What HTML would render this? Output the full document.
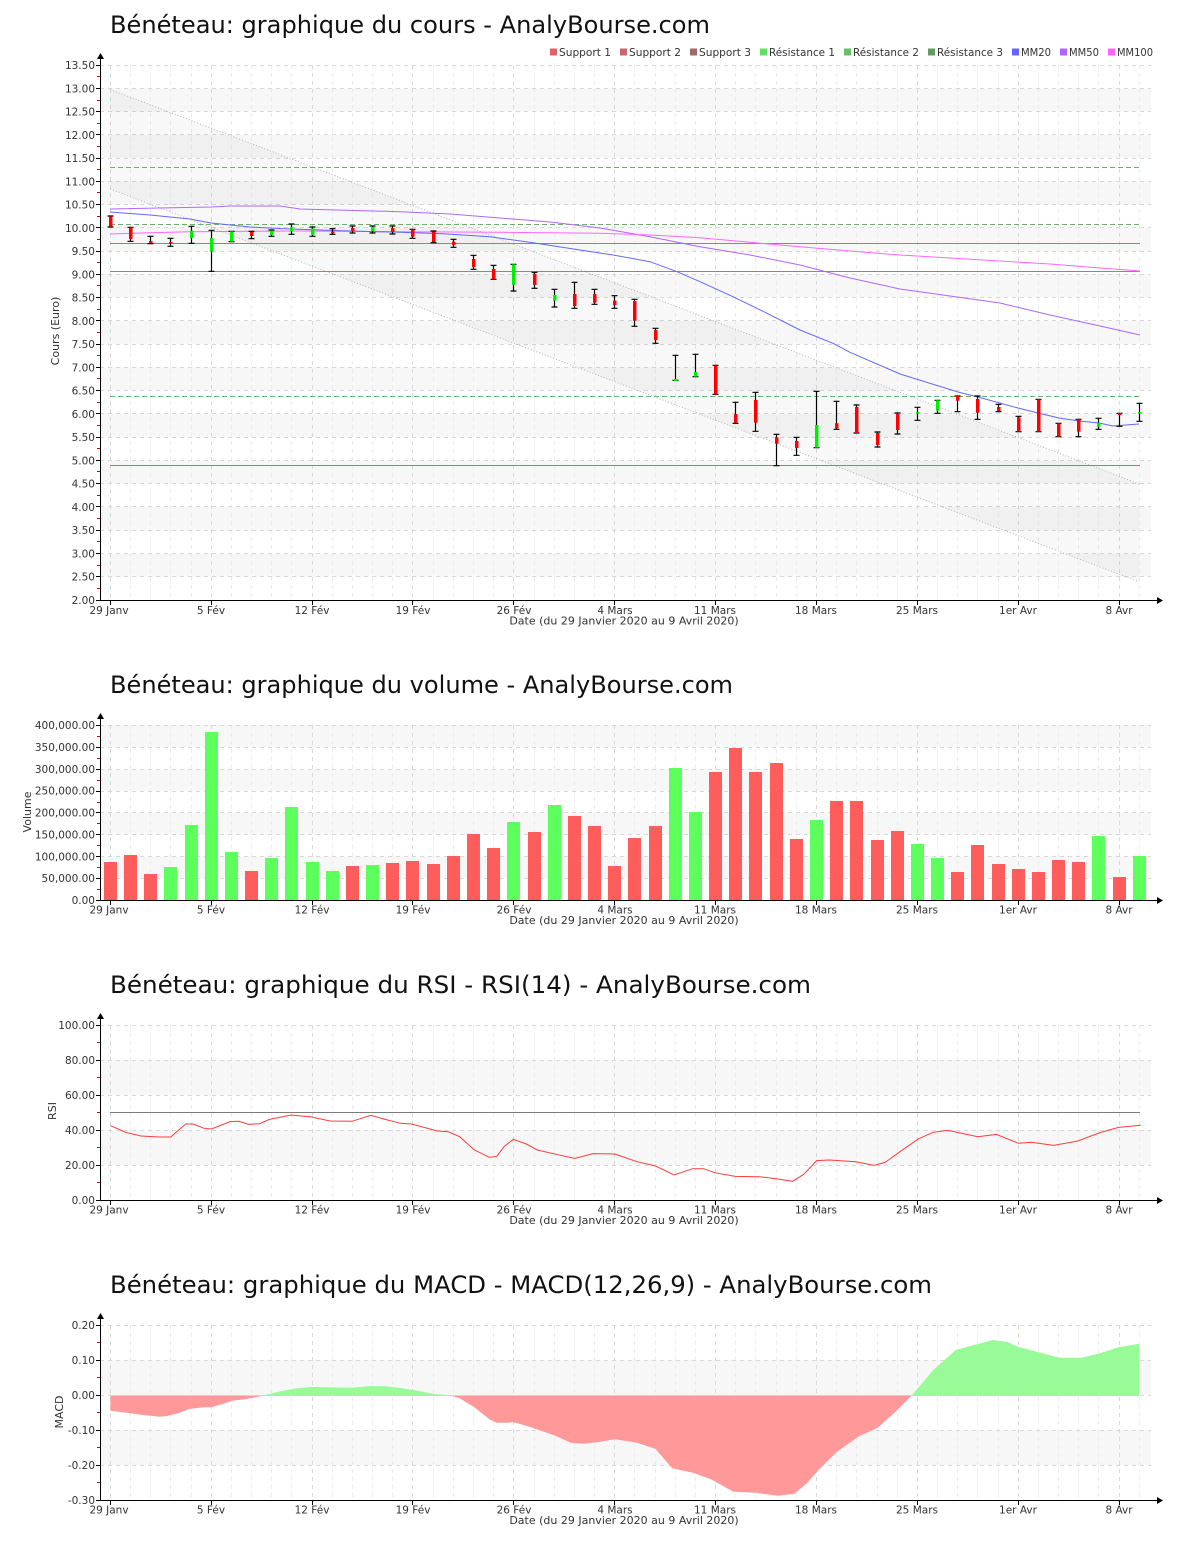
<!DOCTYPE html>
<html><head><meta charset="utf-8"><style>
html,body{margin:0;padding:0;background:#fff;}
svg{display:block;}
text{font-family:"DejaVu Sans","Liberation Sans",sans-serif;}
.t{font-size:24px;fill:#111;}
.yl{font-size:10.5px;fill:#333;text-anchor:end;}
.xl{font-size:10.5px;fill:#333;text-anchor:middle;}
.at{font-size:11px;fill:#333;text-anchor:middle;}
.lg{font-size:10.5px;fill:#333;}
</style></head><body>
<svg width="1200" height="1550" viewBox="0 0 1200 1550" xmlns="http://www.w3.org/2000/svg">
<defs>
<path id="vminL" d="M130.5 0v535M150.5 0v535M170.5 0v535M191.5 0v535M231.5 0v535M251.5 0v535M271.5 0v535M291.5 0v535M332.5 0v535M352.5 0v535M372.5 0v535M392.5 0v535M433.5 0v535M453.5 0v535M473.5 0v535M493.5 0v535M534.5 0v535M554.5 0v535M574.5 0v535M594.5 0v535M634.5 0v535M655.5 0v535M675.5 0v535M695.5 0v535M735.5 0v535M755.5 0v535M776.5 0v535M796.5 0v535M836.5 0v535M856.5 0v535M877.5 0v535M897.5 0v535M937.5 0v535M957.5 0v535M977.5 0v535M998.5 0v535M1038.5 0v535M1058.5 0v535M1078.5 0v535M1098.5 0v535M1139.5 0v535"/>
<path id="vmajL" d="M110.5 0v535M211.5 0v535M312.5 0v535M412.5 0v535M513.5 0v535M614.5 0v535M715.5 0v535M816.5 0v535M917.5 0v535M1018.5 0v535M1119.5 0v535"/>
<path id="vminS" d="M130.5 0v175M150.5 0v175M170.5 0v175M191.5 0v175M231.5 0v175M251.5 0v175M271.5 0v175M291.5 0v175M332.5 0v175M352.5 0v175M372.5 0v175M392.5 0v175M433.5 0v175M453.5 0v175M473.5 0v175M493.5 0v175M534.5 0v175M554.5 0v175M574.5 0v175M594.5 0v175M634.5 0v175M655.5 0v175M675.5 0v175M695.5 0v175M735.5 0v175M755.5 0v175M776.5 0v175M796.5 0v175M836.5 0v175M856.5 0v175M877.5 0v175M897.5 0v175M937.5 0v175M957.5 0v175M977.5 0v175M998.5 0v175M1038.5 0v175M1058.5 0v175M1078.5 0v175M1098.5 0v175M1139.5 0v175"/>
<path id="vmajS" d="M110.5 0v175M211.5 0v175M312.5 0v175M412.5 0v175M513.5 0v175M614.5 0v175M715.5 0v175M816.5 0v175M917.5 0v175M1018.5 0v175M1119.5 0v175"/>
<path id="xtick" d="M110.5 0v4M211.5 0v4M312.5 0v4M412.5 0v4M513.5 0v4M614.5 0v4M715.5 0v4M816.5 0v4M917.5 0v4M1018.5 0v4M1119.5 0v4"/>
<g id="xlabels">
<text class="xl" x="109" y="0">29 Janv</text>
<text class="xl" x="211" y="0">5 Fév</text>
<text class="xl" x="312" y="0">12 Fév</text>
<text class="xl" x="413" y="0">19 Fév</text>
<text class="xl" x="514" y="0">26 Fév</text>
<text class="xl" x="615" y="0">4 Mars</text>
<text class="xl" x="715" y="0">11 Mars</text>
<text class="xl" x="816" y="0">18 Mars</text>
<text class="xl" x="917" y="0">25 Mars</text>
<text class="xl" x="1018" y="0">1er Avr</text>
<text class="xl" x="1119" y="0">8 Avr</text>
<text class="at" x="624" y="10.5">Date (du 29 Janvier 2020 au 9 Avril 2020)</text>
</g>
</defs>

<!-- ================= CHART 1 ================= -->
<text class="t" x="110" y="33" textLength="600" lengthAdjust="spacingAndGlyphs">Bénéteau: graphique du cours - AnalyBourse.com</text>
<g fill="#f7f7f7">
<rect x="100" y="88.26" width="1051" height="23.26"/>
<rect x="100" y="134.78" width="1051" height="23.26"/>
<rect x="100" y="181.3" width="1051" height="23.26"/>
<rect x="100" y="227.83" width="1051" height="23.26"/>
<rect x="100" y="274.35" width="1051" height="23.26"/>
<rect x="100" y="320.87" width="1051" height="23.26"/>
<rect x="100" y="367.39" width="1051" height="23.26"/>
<rect x="100" y="413.91" width="1051" height="23.26"/>
<rect x="100" y="460.43" width="1051" height="23.26"/>
<rect x="100" y="506.96" width="1051" height="23.26"/>
<rect x="100" y="553.48" width="1051" height="23.26"/>
</g>
<use href="#vminL" y="65" stroke="#ececec" stroke-dasharray="4,4" fill="none"/>
<use href="#vmajL" y="65" stroke="#d8d8d8" stroke-dasharray="4,4" fill="none"/>
<path d="M100 65.5H1151M100 88.5H1151M100 111.5H1151M100 134.5H1151M100 158.5H1151M100 181.5H1151M100 204.5H1151M100 227.5H1151M100 251.5H1151M100 274.5H1151M100 297.5H1151M100 320.5H1151M100 344.5H1151M100 367.5H1151M100 390.5H1151M100 413.5H1151M100 437.5H1151M100 460.5H1151M100 483.5H1151M100 506.5H1151M100 530.5H1151M100 553.5H1151M100 576.5H1151" stroke="#d8d8d8" stroke-dasharray="4,4" fill="none"/>
<polygon points="110.3,89.5 1139.3,484 1139.3,582 110.3,189" fill="#000" fill-opacity="0.028"/>
<path d="M110.3 89.5L1139.3 484M110.3 189L1139.3 582" stroke="#b4b4b4" stroke-dasharray="1,2" fill="none"/>
<path d="M110 167.5H1140M110 224.5H1140M110 396.5H1140" stroke="#6fae6f" stroke-dasharray="5,3" fill="none"/>
<path d="M110 243.5H1140M110 271.5H1140M110 465.5H1140" stroke="#b07878" fill="none"/>
<polyline fill="none" stroke="#b066ff" points="110,209 211,207 231,206 280,206 300,209 400,211.7 450,214 500,218 550,222 600,228 650,236.7 700,246.7 750,255 800,265 850,278 900,289 950,296 1000,303 1050,315 1100,326 1140,335"/>
<polyline fill="none" stroke="#ff66ff" points="110,234 150,232.7 190,231.7 300,231 400,231.7 500,232.3 600,233.3 650,235 700,237.7 750,242.3 800,246.7 850,251 900,255 950,258 1000,261 1050,264 1100,268 1140,271"/>
<polyline fill="none" stroke="#6666ff" points="110,212 150,215 190,219 211,223 250,227 290,229 350,231 400,232.3 443,233.7 490,236.7 533,242.7 580,250 613,255 650,261.7 677,271.7 700,281.7 733,296.7 767,313.3 800,330 833,343.3 850,352.3 900,374 958,392 978,397 1018,408 1038,413 1059,418 1079,421 1099,423 1113,426 1139,424"/>
<path fill="none" stroke="#000" stroke-width="1.2" d="
M110.5 216V227M107.5 216H113.5M107.5 227H113.5
M130.5 227.3V241.3M127.5 227.3H133.5M127.5 241.3H133.5
M150.5 236.3V243.7M147.5 236.3H153.5M147.5 243.7H153.5
M170.5 238.3V246.3M167.5 238.3H173.5M167.5 246.3H173.5
M191.5 226.3V243.3M188.5 226.3H194.5M188.5 243.3H194.5
M211.5 230.3V271.3M208.5 230.3H214.5M208.5 271.3H214.5
M231.5 231.3V241.7M228.5 231.3H234.5M228.5 241.7H234.5
M251.5 231.3V238.7M248.5 231.3H254.5M248.5 238.7H254.5
M271.5 230V236.3M268.5 230H274.5M268.5 236.3H274.5
M291.5 224V234.3M288.5 224H294.5M288.5 234.3H294.5
M312.5 227V236.3M309.5 227H315.5M309.5 236.3H315.5
M332.5 228.7V234.3M329.5 228.7H335.5M329.5 234.3H335.5
M352.5 226V233M349.5 226H355.5M349.5 233H355.5
M372.5 226V233M369.5 226H375.5M369.5 233H375.5
M392.5 226V234M389.5 226H395.5M389.5 234H395.5
M412.5 229.3V238.3M409.5 229.3H415.5M409.5 238.3H415.5
M433.5 231V242.7M430.5 231H436.5M430.5 242.7H436.5
M453.5 239.3V247.3M450.5 239.3H456.5M450.5 247.3H456.5
M473.5 255.3V269.3M470.5 255.3H476.5M470.5 269.3H476.5
M493.5 265.3V279.3M490.5 265.3H496.5M490.5 279.3H496.5
M513.5 264.3V291M510.5 264.3H516.5M510.5 291H516.5
M534.5 272.3V288.3M531.5 272.3H537.5M531.5 288.3H537.5
M554.5 289.3V307M551.5 289.3H557.5M551.5 307H557.5
M574.5 282.3V308.3M571.5 282.3H577.5M571.5 308.3H577.5
M594.5 289.3V304.3M591.5 289.3H597.5M591.5 304.3H597.5
M614.5 295.7V308.3M611.5 295.7H617.5M611.5 308.3H617.5
M634.5 299.3V326.3M631.5 299.3H637.5M631.5 326.3H637.5
M655.5 328.3V343.3M652.5 328.3H658.5M652.5 343.3H658.5
M675.5 355.3V380.3M672.5 355.3H678.5M672.5 380.3H678.5
M695.5 354.3V376.7M692.5 354.3H698.5M692.5 376.7H698.5
M715.5 365.3V394.3M712.5 365.3H718.5M712.5 394.3H718.5
M735.5 402.3V423.3M732.5 402.3H738.5M732.5 423.3H738.5
M755.5 392.3V431.3M752.5 392.3H758.5M752.5 431.3H758.5
M776.5 434.3V465.7M773.5 434.3H779.5M773.5 465.7H779.5
M796.5 437.3V455.3M793.5 437.3H799.5M793.5 455.3H799.5
M816.5 391.3V447.7M813.5 391.3H819.5M813.5 447.7H819.5
M836.5 401.3V429.3M833.5 401.3H839.5M833.5 429.3H839.5
M856.5 405V433M853.5 405H859.5M853.5 433H859.5
M877.5 432V447M874.5 432H880.5M874.5 447H880.5
M897.5 413V434M894.5 413H900.5M894.5 434H900.5
M917.5 407.3V420.3M914.5 407.3H920.5M914.5 420.3H920.5
M937.5 400.3V413.3M934.5 400.3H940.5M934.5 413.3H940.5
M957.5 396V411.7M954.5 396H960.5M954.5 411.7H960.5
M977.5 396V419.3M974.5 396H980.5M974.5 419.3H980.5
M998.5 404.3V411.7M995.5 404.3H1001.5M995.5 411.7H1001.5
M1018.5 416.3V431.7M1015.5 416.3H1021.5M1015.5 431.7H1021.5
M1038.5 399.3V431.7M1035.5 399.3H1041.5M1035.5 431.7H1041.5
M1058.5 423.3V436.7M1055.5 423.3H1061.5M1055.5 436.7H1061.5
M1078.5 419.3V436.7M1075.5 419.3H1081.5M1075.5 436.7H1081.5
M1098.5 418.3V429.3M1095.5 418.3H1101.5M1095.5 429.3H1101.5
M1119.5 413.3V426.3M1116.5 413.3H1122.5M1116.5 426.3H1122.5
M1139.5 403.3V421.3M1136.5 403.3H1142.5M1136.5 421.3H1142.5"/>
<g fill="#ff0000">
<rect x="109" y="216.3" width="3.5" height="10.4"/>
<rect x="129" y="227.3" width="3.5" height="11.7"/>
<rect x="149" y="241" width="3.5" height="2"/>
<rect x="169" y="242" width="3.5" height="1.7"/>
<rect x="250" y="232" width="3.5" height="4"/>
<rect x="331" y="231.7" width="3.5" height="1.6"/>
<rect x="351" y="228" width="3.5" height="3"/>
<rect x="391" y="228" width="3.5" height="4"/>
<rect x="411" y="229.3" width="3.5" height="7.4"/>
<rect x="432" y="231.7" width="3.5" height="10.3"/>
<rect x="452" y="241.7" width="3.5" height="3.3"/>
<rect x="472" y="259" width="3.5" height="8"/>
<rect x="492" y="269" width="3.5" height="10.3"/>
<rect x="533" y="273.7" width="3.5" height="11.3"/>
<rect x="573" y="294" width="3.5" height="12"/>
<rect x="593" y="294" width="3.5" height="8.7"/>
<rect x="613" y="300.7" width="3.5" height="4.3"/>
<rect x="633" y="301" width="3.5" height="19.7"/>
<rect x="654" y="330" width="3.5" height="10"/>
<rect x="714" y="365.3" width="3.5" height="29"/>
<rect x="734" y="414" width="3.5" height="8.7"/>
<rect x="754" y="400" width="3.5" height="22.7"/>
<rect x="775" y="437.3" width="3.5" height="6.4"/>
<rect x="795" y="441" width="3.5" height="7"/>
<rect x="835" y="423.3" width="3.5" height="5"/>
<rect x="855" y="407" width="3.5" height="26"/>
<rect x="876" y="433" width="3.5" height="12"/>
<rect x="896" y="414" width="3.5" height="16"/>
<rect x="956" y="396" width="3.5" height="4.7"/>
<rect x="976" y="399" width="3.5" height="13.7"/>
<rect x="997" y="407" width="3.5" height="4"/>
<rect x="1017" y="417.3" width="3.5" height="14.4"/>
<rect x="1037" y="399.3" width="3.5" height="32.4"/>
<rect x="1057" y="423.3" width="3.5" height="13.4"/>
<rect x="1077" y="419.3" width="3.5" height="12.4"/>
<rect x="1118" y="413.3" width="3.5" height="1.7"/>
</g>
<g fill="#00ee00">
<rect x="190" y="230.7" width="3.5" height="7.3"/>
<rect x="210" y="238" width="3.5" height="13.7"/>
<rect x="230" y="231.3" width="3.5" height="10.4"/>
<rect x="270" y="230.7" width="3.5" height="4.3"/>
<rect x="290" y="227.3" width="3.5" height="3.7"/>
<rect x="311" y="228.3" width="3.5" height="6.7"/>
<rect x="371" y="227" width="3.5" height="4"/>
<rect x="512" y="264.3" width="3.5" height="20.7"/>
<rect x="553" y="295" width="3.5" height="5.7"/>
<rect x="674" y="379" width="3.5" height="2"/>
<rect x="694" y="372" width="3.5" height="4.7"/>
<rect x="815" y="425" width="3.5" height="22.7"/>
<rect x="916" y="412" width="3.5" height="1.7"/>
<rect x="936" y="400.3" width="3.5" height="10.4"/>
<rect x="1097" y="422.7" width="3.5" height="4"/>
<rect x="1138" y="412" width="3.5" height="1.7"/>
</g>
<g>
<rect x="550" y="48.5" width="7" height="7" fill="#e06464"/>
<text class="lg" x="559" y="56" textLength="52" lengthAdjust="spacingAndGlyphs">Support 1</text>
<rect x="620" y="48.5" width="7" height="7" fill="#c46868"/>
<text class="lg" x="629" y="56" textLength="52" lengthAdjust="spacingAndGlyphs">Support 2</text>
<rect x="690" y="48.5" width="7" height="7" fill="#a06868"/>
<text class="lg" x="699" y="56" textLength="52" lengthAdjust="spacingAndGlyphs">Support 3</text>
<rect x="760" y="48.5" width="7" height="7" fill="#64e064"/>
<text class="lg" x="769" y="56" textLength="66" lengthAdjust="spacingAndGlyphs">Résistance 1</text>
<rect x="844" y="48.5" width="7" height="7" fill="#64c064"/>
<text class="lg" x="853" y="56" textLength="66" lengthAdjust="spacingAndGlyphs">Résistance 2</text>
<rect x="928" y="48.5" width="7" height="7" fill="#649864"/>
<text class="lg" x="937" y="56" textLength="66" lengthAdjust="spacingAndGlyphs">Résistance 3</text>
<rect x="1012" y="48.5" width="7" height="7" fill="#6464ff"/>
<text class="lg" x="1021" y="56" textLength="30" lengthAdjust="spacingAndGlyphs">MM20</text>
<rect x="1060" y="48.5" width="7" height="7" fill="#b064ff"/>
<text class="lg" x="1069" y="56" textLength="30" lengthAdjust="spacingAndGlyphs">MM50</text>
<rect x="1108" y="48.5" width="7" height="7" fill="#ff64ff"/>
<text class="lg" x="1117" y="56" textLength="36" lengthAdjust="spacingAndGlyphs">MM100</text>
</g>
<path d="M100.5 58V600.5H1157" stroke="#000" fill="none"/>
<polygon points="97,59 100.5,53 104,59" fill="#000"/>
<polygon points="1157,597 1163,600.5 1157,604" fill="#000"/>
<path d="M96 65.5h4M96 88.5h4M96 111.5h4M96 134.5h4M96 158.5h4M96 181.5h4M96 204.5h4M96 227.5h4M96 251.5h4M96 274.5h4M96 297.5h4M96 320.5h4M96 344.5h4M96 367.5h4M96 390.5h4M96 413.5h4M96 437.5h4M96 460.5h4M96 483.5h4M96 506.5h4M96 530.5h4M96 553.5h4M96 576.5h4M96 600.5h4" stroke="#000"/>
<path d="M97 76.5h3M97 100.5h3M97 123.5h3M97 146.5h3M97 169.5h3M97 192.5h3M97 216.5h3M97 239.5h3M97 262.5h3M97 285.5h3M97 309.5h3M97 332.5h3M97 355.5h3M97 378.5h3M97 402.5h3M97 425.5h3M97 448.5h3M97 471.5h3M97 495.5h3M97 518.5h3M97 541.5h3M97 565.5h3M97 588.5h3" stroke="#e00000"/>
<use href="#xtick" y="601" stroke="#000"/>
<g>
<text class="yl" x="95" y="69">13.50</text>
<text class="yl" x="95" y="92.3">13.00</text>
<text class="yl" x="95" y="115.5">12.50</text>
<text class="yl" x="95" y="138.8">12.00</text>
<text class="yl" x="95" y="162">11.50</text>
<text class="yl" x="95" y="185.3">11.00</text>
<text class="yl" x="95" y="208.6">10.50</text>
<text class="yl" x="95" y="231.8">10.00</text>
<text class="yl" x="95" y="255.1">9.50</text>
<text class="yl" x="95" y="278.4">9.00</text>
<text class="yl" x="95" y="301.6">8.50</text>
<text class="yl" x="95" y="324.9">8.00</text>
<text class="yl" x="95" y="348.1">7.50</text>
<text class="yl" x="95" y="371.4">7.00</text>
<text class="yl" x="95" y="394.7">6.50</text>
<text class="yl" x="95" y="417.9">6.00</text>
<text class="yl" x="95" y="441.2">5.50</text>
<text class="yl" x="95" y="464.4">5.00</text>
<text class="yl" x="95" y="487.7">4.50</text>
<text class="yl" x="95" y="511">4.00</text>
<text class="yl" x="95" y="534.2">3.50</text>
<text class="yl" x="95" y="557.5">3.00</text>
<text class="yl" x="95" y="580.7">2.50</text>
<text class="yl" x="95" y="604">2.00</text>
</g>
<text class="at" transform="translate(59,331) rotate(-90)" x="0" y="0">Cours (Euro)</text>
<use href="#xlabels" y="614"/>

<!-- ================= CHART 2 (VOLUME) ================= -->
<text class="t" x="110" y="693" textLength="623" lengthAdjust="spacingAndGlyphs">Bénéteau: graphique du volume - AnalyBourse.com</text>
<g fill="#f7f7f7">
<rect x="100" y="725" width="1051" height="21.9"/>
<rect x="100" y="768.75" width="1051" height="21.9"/>
<rect x="100" y="812.5" width="1051" height="21.9"/>
<rect x="100" y="856.25" width="1051" height="21.9"/>
</g>
<use href="#vminS" y="725" stroke="#ececec" stroke-dasharray="4,4" fill="none"/>
<use href="#vmajS" y="725" stroke="#d8d8d8" stroke-dasharray="4,4" fill="none"/>
<path d="M100 725.5H1151M100 747.5H1151M100 769.5H1151M100 791.5H1151M100 812.5H1151M100 834.5H1151M100 856.5H1151M100 878.5H1151" stroke="#d8d8d8" stroke-dasharray="4,4" fill="none"/>
<g fill="#ff5c5c">
<rect x="104" y="862" width="13" height="38"/>
<rect x="124" y="855" width="13" height="45"/>
<rect x="144" y="874" width="13" height="26"/>
<rect x="245" y="871" width="13" height="29"/>
<rect x="346" y="866" width="13" height="34"/>
<rect x="386" y="863" width="13" height="37"/>
<rect x="406" y="861" width="13" height="39"/>
<rect x="427" y="864" width="13" height="36"/>
<rect x="447" y="856" width="13" height="44"/>
<rect x="467" y="834" width="13" height="66"/>
<rect x="487" y="848" width="13" height="52"/>
<rect x="528" y="832" width="13" height="68"/>
<rect x="568" y="816" width="13" height="84"/>
<rect x="588" y="826" width="13" height="74"/>
<rect x="608" y="866" width="13" height="34"/>
<rect x="628" y="838" width="13" height="62"/>
<rect x="649" y="826" width="13" height="74"/>
<rect x="709" y="772" width="13" height="128"/>
<rect x="729" y="748" width="13" height="152"/>
<rect x="749" y="772" width="13" height="128"/>
<rect x="770" y="763" width="13" height="137"/>
<rect x="790" y="839" width="13" height="61"/>
<rect x="830" y="801" width="13" height="99"/>
<rect x="850" y="801" width="13" height="99"/>
<rect x="871" y="840" width="13" height="60"/>
<rect x="891" y="831" width="13" height="69"/>
<rect x="951" y="872" width="13" height="28"/>
<rect x="971" y="845" width="13" height="55"/>
<rect x="992" y="864" width="13" height="36"/>
<rect x="1012" y="869" width="13" height="31"/>
<rect x="1032" y="872" width="13" height="28"/>
<rect x="1052" y="860" width="13" height="40"/>
<rect x="1072" y="862" width="13" height="38"/>
<rect x="1113" y="877" width="13" height="23"/>
</g>
<g fill="#5cff5c">
<rect x="164" y="867" width="13" height="33"/>
<rect x="185" y="825" width="13" height="75"/>
<rect x="205" y="732" width="13" height="168"/>
<rect x="225" y="852" width="13" height="48"/>
<rect x="265" y="858" width="13" height="42"/>
<rect x="285" y="807" width="13" height="93"/>
<rect x="306" y="862" width="13" height="38"/>
<rect x="326" y="871" width="13" height="29"/>
<rect x="366" y="865" width="13" height="35"/>
<rect x="507" y="822" width="13" height="78"/>
<rect x="548" y="805" width="13" height="95"/>
<rect x="669" y="768" width="13" height="132"/>
<rect x="689" y="812" width="13" height="88"/>
<rect x="810" y="820" width="13" height="80"/>
<rect x="911" y="844" width="13" height="56"/>
<rect x="931" y="858" width="13" height="42"/>
<rect x="1092" y="836" width="13" height="64"/>
<rect x="1133" y="856" width="13" height="44"/>
</g>
<path d="M100.5 718V900.5H1157" stroke="#000" fill="none"/>
<polygon points="97,719 100.5,713 104,719" fill="#000"/>
<polygon points="1157,897 1163,900.5 1157,904" fill="#000"/>
<path d="M96 725.5h4M96 747.5h4M96 769.5h4M96 791.5h4M96 812.5h4M96 834.5h4M96 856.5h4M96 878.5h4M96 900.5h4" stroke="#000"/>
<path d="M97 736.5h3M97 758.5h3M97 780.5h3M97 802.5h3M97 823.5h3M97 845.5h3M97 867.5h3M97 889.5h3" stroke="#e00000"/>
<use href="#xtick" y="901" stroke="#000"/>
<g>
<text class="yl" x="95" y="729">400,000.00</text>
<text class="yl" x="95" y="750.9">350,000.00</text>
<text class="yl" x="95" y="772.8">300,000.00</text>
<text class="yl" x="95" y="794.6">250,000.00</text>
<text class="yl" x="95" y="816.5">200,000.00</text>
<text class="yl" x="95" y="838.4">150,000.00</text>
<text class="yl" x="95" y="860.3">100,000.00</text>
<text class="yl" x="95" y="882.1">50,000.00</text>
<text class="yl" x="95" y="904">0.00</text>
</g>
<text class="at" transform="translate(31,812) rotate(-90)" x="0" y="0">Volume</text>
<use href="#xlabels" y="913.5"/>

<!-- ================= CHART 3 (RSI) ================= -->
<text class="t" x="110" y="993" textLength="701" lengthAdjust="spacingAndGlyphs">Bénéteau: graphique du RSI - RSI(14) - AnalyBourse.com</text>
<g fill="#f7f7f7">
<rect x="100" y="1060" width="1051" height="35"/>
<rect x="100" y="1130" width="1051" height="35"/>
</g>
<use href="#vminS" y="1025" stroke="#ececec" stroke-dasharray="4,4" fill="none"/>
<use href="#vmajS" y="1025" stroke="#d8d8d8" stroke-dasharray="4,4" fill="none"/>
<path d="M100 1025.5H1151M100 1060.5H1151M100 1095.5H1151M100 1130.5H1151M100 1165.5H1151" stroke="#d8d8d8" stroke-dasharray="4,4" fill="none"/>
<path d="M110 1112.5H1140" stroke="#7a7a7a" fill="none"/>
<polyline fill="none" stroke="#ff3c3c" points="110.4,1125.6 126.3,1132.6 141,1136 159.6,1137 170.7,1137 185.6,1124 193,1124 204,1128.3 211.5,1129 230,1121.6 239,1121.3 248.5,1124.4 259.6,1123.7 269,1119.5 291,1115 311.5,1117 330,1121 352,1121.3 370.7,1115.3 385.6,1119.5 400.4,1123.3 411.5,1124 437.4,1131 448.5,1131.8 459.6,1136.7 474.4,1150 489.3,1157.3 496.7,1156.6 504,1146.6 513.3,1139.3 526.3,1144 537.4,1150 556,1154.3 574.4,1158.4 581.9,1156.6 593,1153.6 614.8,1154 637,1161.7 655.6,1166 674,1175 692.6,1168.7 703.7,1168.7 714.8,1172.7 735.2,1176.4 759.3,1176.7 777.8,1179 792.6,1181.3 803.7,1174.3 816.7,1160.6 829.6,1160 855.6,1161.7 874,1165.4 885.2,1162.4 900,1151.7 918.5,1138.8 933.3,1132.3 948,1130.4 977.8,1136.7 996.3,1134.4 1018.5,1143.3 1031.5,1142.3 1053.7,1145.4 1077.8,1141 1100,1132.6 1118.5,1127.4 1140.7,1125.3"/>
<path d="M100.5 1018V1200.5H1157" stroke="#000" fill="none"/>
<polygon points="97,1019 100.5,1013 104,1019" fill="#000"/>
<polygon points="1157,1197 1163,1200.5 1157,1204" fill="#000"/>
<path d="M96 1025.5h4M96 1060.5h4M96 1095.5h4M96 1130.5h4M96 1165.5h4M96 1200.5h4" stroke="#000"/>
<path d="M97 1042.5h3M97 1077.5h3M97 1112.5h3M97 1147.5h3M97 1182.5h3" stroke="#e00000"/>
<use href="#xtick" y="1201" stroke="#000"/>
<g>
<text class="yl" x="95" y="1029">100.00</text>
<text class="yl" x="95" y="1064">80.00</text>
<text class="yl" x="95" y="1099">60.00</text>
<text class="yl" x="95" y="1134">40.00</text>
<text class="yl" x="95" y="1169">20.00</text>
<text class="yl" x="95" y="1204">0.00</text>
</g>
<text class="at" transform="translate(56,1111) rotate(-90)" x="0" y="0">RSI</text>
<use href="#xlabels" y="1213.5"/>

<!-- ================= CHART 4 (MACD) ================= -->
<text class="t" x="110" y="1293" textLength="822" lengthAdjust="spacingAndGlyphs">Bénéteau: graphique du MACD - MACD(12,26,9) - AnalyBourse.com</text>
<g fill="#f7f7f7">
<rect x="100" y="1360" width="1051" height="35"/>
<rect x="100" y="1430" width="1051" height="35"/>
</g>
<use href="#vminS" y="1325" stroke="#ececec" stroke-dasharray="4,4" fill="none"/>
<use href="#vmajS" y="1325" stroke="#d8d8d8" stroke-dasharray="4,4" fill="none"/>
<path d="M100 1325.5H1151M100 1360.5H1151M100 1395.5H1151M100 1430.5H1151M100 1465.5H1151" stroke="#d8d8d8" stroke-dasharray="4,4" fill="none"/>
<g fill="#ff9999">
<path d="M110.4 1395L110.4 1410.7 126.3 1412.7 141 1414.7 159.6 1416.7 167 1416 178 1413.3 189 1409 204 1407.3 211.5 1407.3 222.6 1404 231.9 1400.7 244.8 1399.3 256 1397.3 265.2 1395Z"/>
<path d="M448.5 1395L459.6 1398.3 474.4 1407.3 489.3 1419.3 496.7 1422.7 507.8 1422.7 513.3 1422.3 526.3 1425.7 541.1 1430.7 555.9 1436 570.7 1442.7 581.9 1443.7 596.7 1442.3 614.8 1439.3 637 1442.7 655.6 1449 672.2 1468.3 692.6 1472.7 711 1479.3 733.3 1491.7 755.6 1492.7 777.8 1495.7 794.4 1493.7 807.4 1482.7 818.5 1470 837 1451.7 859.3 1436 877.8 1427.7 896.3 1411 912.2 1395Z"/>
</g>
<g fill="#98fb98">
<path d="M265.2 1395L281.9 1391 296.7 1388.3 311.5 1387 326.3 1387.3 352.2 1387.7 370.7 1386 385.6 1386.3 400.4 1388 418.9 1391 433.7 1394 448.5 1395Z"/>
<path d="M912.2 1395L933.3 1370 955.6 1350 970.4 1346 992.6 1340 1007.4 1342 1018.5 1347 1037 1351.7 1059.3 1357.7 1081.5 1357.7 1100 1353.3 1118.5 1347.3 1139.3 1343.7 1139.3 1395Z"/>
</g>
<path d="M110 1395.5H1139" stroke="#98fb98" fill="none"/>
<path d="M100.5 1318V1500.5H1157" stroke="#000" fill="none"/>
<polygon points="97,1319 100.5,1313 104,1319" fill="#000"/>
<polygon points="1157,1497 1163,1500.5 1157,1504" fill="#000"/>
<path d="M96 1325.5h4M96 1360.5h4M96 1395.5h4M96 1430.5h4M96 1465.5h4M96 1500.5h4" stroke="#000"/>
<path d="M97 1342.5h3M97 1377.5h3M97 1412.5h3M97 1447.5h3M97 1482.5h3" stroke="#e00000"/>
<use href="#xtick" y="1501" stroke="#000"/>
<g>
<text class="yl" x="95" y="1329">0.20</text>
<text class="yl" x="95" y="1364">0.10</text>
<text class="yl" x="95" y="1399">0.00</text>
<text class="yl" x="95" y="1434">-0.10</text>
<text class="yl" x="95" y="1469">-0.20</text>
<text class="yl" x="95" y="1504">-0.30</text>
</g>
<text class="at" transform="translate(63,1412) rotate(-90)" x="0" y="0">MACD</text>
<use href="#xlabels" y="1513.5"/>
</svg>
</body></html>
